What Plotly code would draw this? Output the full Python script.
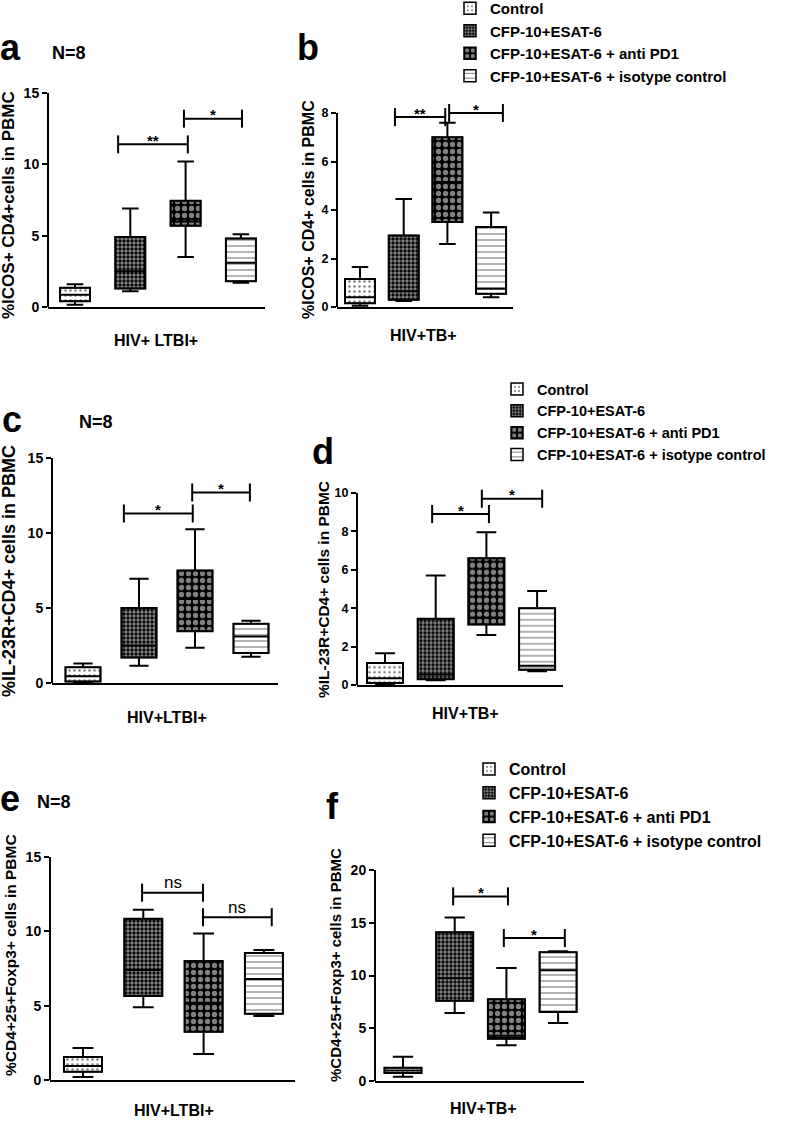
import plotly.graph_objects as go

W, H = 787, 1124
FONT = "Liberation Sans"

GROUPS = ["Control", "CFP-10+ESAT-6", "CFP-10+ESAT-6 + anti PD1",
          "CFP-10+ESAT-6 + isotype control"]

# ---- panel a: %ICOS+ CD4+ cells, HIV+ LTBI+ ----
A_MIN = [0.15, 1.1, 3.5, 1.7]
A_Q1 = [0.4, 1.3, 5.7, 1.8]
A_MED = [0.85, 2.5, 6.0, 3.1]
A_Q3 = [1.35, 4.9, 7.45, 4.8]
A_MAX = [1.6, 6.9, 10.2, 5.1]
A_YTICKS = [0, 5, 10, 15]
A_BRACKETS = [(0.78, 2.04, 11.4, "**"), (1.97, 3.02, 13.2, "*")]

# ---- panel b: %ICOS+ CD4+ cells, HIV+TB+ ----
B_MIN = [0.05, 0.25, 2.6, 0.4]
B_Q1 = [0.15, 0.3, 3.5, 0.55]
B_MED = [0.4, 0.65, 5.15, 0.75]
B_Q3 = [1.15, 2.95, 7.0, 3.3]
B_MAX = [1.65, 4.45, 7.6, 3.9]
B_YTICKS = [0, 2, 4, 6, 8]
B_BRACKETS = [(0.80, 1.95, 7.83, "**"), (2.04, 3.27, 8.0, "*")]

# ---- panel c: %IL-23R+CD4+ cells, HIV+LTBI+ ----
C_MIN = [0.05, 1.15, 2.35, 1.75]
C_Q1 = [0.1, 1.7, 3.45, 2.0]
C_MED = [0.45, 2.5, 5.6, 3.1]
C_Q3 = [1.05, 5.0, 7.5, 3.95]
C_MAX = [1.3, 6.95, 10.25, 4.15]
C_YTICKS = [0, 5, 10, 15]
C_BRACKETS = [(0.73, 1.96, 11.3, "*"), (1.95, 2.98, 12.7, "*")]

# ---- panel d: %IL-23R+CD4+ cells, HIV+TB+ ----
D_MIN = [0.05, 0.25, 2.6, 0.72]
D_Q1 = [0.1, 0.3, 3.15, 0.8]
D_MED = [0.35, 0.55, 3.5, 1.0]
D_Q3 = [1.15, 3.45, 6.6, 4.0]
D_MAX = [1.65, 5.7, 7.95, 4.9]
D_YTICKS = [0, 2, 4, 6, 8, 10]
D_BRACKETS = [(0.93, 2.05, 8.9, "*"), (1.91, 3.10, 9.7, "*")]

# ---- panel e: %CD4+25+Foxp3+ cells, HIV+LTBI+ ----
E_MIN = [0.2, 4.9, 1.75, 4.3]
E_Q1 = [0.55, 5.65, 3.25, 4.45]
E_MED = [0.95, 7.4, 5.2, 6.8]
E_Q3 = [1.55, 10.85, 8.0, 8.55]
E_MAX = [2.15, 11.45, 9.85, 8.75]
E_YTICKS = [0, 5, 10, 15]
E_BRACKETS = [(0.98, 1.99, 12.6, "ns"), (1.99, 3.13, 10.95, "ns")]

# ---- panel f: %CD4+25+Foxp3+ cells, HIV+TB+ ----
F_MIN = [0.4, 6.45, 3.4, 5.5]
F_Q1 = [0.75, 7.6, 4.0, 6.55]
F_MED = [1.0, 9.75, 4.3, 10.5]
F_Q3 = [1.25, 14.1, 7.75, 12.2]
F_MAX = [2.3, 15.5, 10.7, 12.3]
F_YTICKS = [0, 5, 10, 15, 20]
F_BRACKETS = [(0.97, 2.03, 17.5, "*"), (1.95, 3.13, 13.55, "*")]

YTITLES = ["%ICOS+ CD4+cells in PBMC", "%ICOS+ CD4+ cells in PBMC",
           "%IL-23R+CD4+ cells in PBMC", "%IL-23R+CD4+ cells in PBMC",
           "%CD4+25+Foxp3+ cells in PBMC", "%CD4+25+Foxp3+ cells in PBMC"]
XTITLES = ["HIV+ LTBI+", "HIV+TB+", "HIV+LTBI+", "HIV+TB+", "HIV+LTBI+", "HIV+TB+"]
LETTERS = ["a", "b", "c", "d", "e", "f"]

DATA = [
    (A_MIN, A_Q1, A_MED, A_Q3, A_MAX, A_YTICKS, A_BRACKETS),
    (B_MIN, B_Q1, B_MED, B_Q3, B_MAX, B_YTICKS, B_BRACKETS),
    (C_MIN, C_Q1, C_MED, C_Q3, C_MAX, C_YTICKS, C_BRACKETS),
    (D_MIN, D_Q1, D_MED, D_Q3, D_MAX, D_YTICKS, D_BRACKETS),
    (E_MIN, E_Q1, E_MED, E_Q3, E_MAX, E_YTICKS, E_BRACKETS),
    (F_MIN, F_Q1, F_MED, F_Q3, F_MAX, F_YTICKS, F_BRACKETS),
]

# ---- layout geometry (pixels) ----
GEOM = [
    dict(xl=48, xr=265, c0=75, step=55.3, y0=307, ytop=93, box=30, tick=14,
         letter=(10, 48), n8=(69, 53), yt=(8, 205, 17), xt=(156, 341), legend=None),
    dict(xl=337, xr=513, c0=360, step=43.7, y0=307, ytop=113, box=30, tick=12.5,
         letter=(308, 48), n8=None, yt=(308, 210, 16), xt=(424, 335),
         legend=("legend", 450, -8, 15)),
    dict(xl=52, xr=278, c0=83, step=56, y0=683, ytop=458, box=35, tick=14,
         letter=(12, 419), n8=(96, 422), yt=(9, 571, 18), xt=(167, 717), legend=None),
    dict(xl=357, xr=563, c0=385, step=50.7, y0=685, ytop=493, box=36, tick=12.5,
         letter=(323, 451), n8=None, yt=(323, 590, 15.5), xt=(465, 713),
         legend=("legend2", 497, 373, 14.5)),
    dict(xl=50, xr=295, c0=83, step=60.3, y0=1080, ytop=857, box=38, tick=14,
         letter=(10, 798), n8=(54, 802), yt=(10, 955, 15.5), xt=(174, 1110), legend=None),
    dict(xl=375, xr=584, c0=403, step=51.7, y0=1081, ytop=870, box=37, tick=14,
         letter=(332, 806), n8=None, yt=(335, 965, 15), xt=(483, 1108),
         legend=("legend3", 469, 752, 16)),
]

PATTERNS = [
    dict(shape=".", size=5, solidity=0.2, fgcolor="black", bgcolor="white"),
    dict(shape=".", size=4, solidity=0.55, fgcolor="white", bgcolor="black"),
    dict(shape=".", size=7, solidity=0.45, fgcolor="white", bgcolor="black"),
    dict(shape="-", size=6, solidity=0.2, fgcolor="black", bgcolor="white"),
]


def px_x(p):
    return p / W


def px_y(p):
    return 1 - p / H


def bold(t):
    return f"<b>{t}</b>"


fig = go.Figure()
layout = {}
annotations = []
shapes = []

for k, (mins, q1, med, q3, maxs, yticks, brackets) in enumerate(DATA):
    g = GEOM[k]
    n = k + 1
    xa = "x" if n == 1 else f"x{n}"
    ya = "y" if n == 1 else f"y{n}"
    pxu = (g["y0"] - g["ytop"]) / yticks[-1]
    top_val = max(yticks[-1], max(b[2] for b in brackets) + 14 / pxu)
    top_px = g["y0"] - top_val * pxu
    bw = g["box"] / g["step"]
    leg = g["legend"]

    layout["xaxis" if n == 1 else f"xaxis{n}"] = dict(
        domain=[px_x(g["xl"]), px_x(g["xr"])],
        range=[(g["xl"] - g["c0"]) / g["step"], (g["xr"] - g["c0"]) / g["step"]],
        anchor=ya, showline=True, linewidth=2, linecolor="black",
        showticklabels=False, ticks="", showgrid=False, zeroline=False)
    layout["yaxis" if n == 1 else f"yaxis{n}"] = dict(
        domain=[px_y(g["y0"]), px_y(top_px)], range=[0, top_val], anchor=xa,
        showline=False, ticks="outside", ticklen=5, tickwidth=2, tickcolor="black",
        tickvals=yticks, ticktext=[bold(v) for v in yticks],
        tickfont=dict(family=FONT, size=g["tick"], color="black"),
        showgrid=False, zeroline=False)

    # y axis line ending at the top tick
    shapes.append(dict(type="line", xref=f"{xa} domain", x0=0, x1=0, yref=ya,
                       y0=0, y1=yticks[-1], line=dict(color="black", width=2)))

    for i, name in enumerate(GROUPS):
        fig.add_trace(go.Bar(
            x=[i], y=[q3[i] - q1[i]], base=[q1[i]], width=[bw], name=name,
            marker=dict(color="white", pattern=PATTERNS[i],
                        line=dict(color="black", width=1.5)),
            showlegend=leg is not None, legend=leg[0] if leg else "legend",
            xaxis=xa, yaxis=ya, hoverinfo="skip"))
        fig.add_trace(go.Box(
            x=[i], q1=[q1[i]], median=[med[i]], q3=[q3[i]],
            lowerfence=[mins[i]], upperfence=[maxs[i]], width=bw, whiskerwidth=0.55,
            line=dict(color="black", width=2), fillcolor="rgba(0,0,0,0)",
            boxpoints=False, showlegend=False, xaxis=xa, yaxis=ya, hoverinfo="skip"))

    d = 9 / pxu
    for (b1, b2, h, lab) in brackets:
        fig.add_trace(go.Scatter(
            x=[b1, b1, None, b1, b2, None, b2, b2],
            y=[h - d, h + d, None, h, h, None, h - d, h + d],
            mode="lines", line=dict(color="black", width=2),
            showlegend=False, xaxis=xa, yaxis=ya, hoverinfo="skip"))
        if lab == "ns":
            annotations.append(dict(x=(b1 + b2) / 2, y=h, xref=xa, yref=ya, text=lab,
                                    showarrow=False, yanchor="middle", yshift=10,
                                    font=dict(family=FONT, size=17, color="black")))
        else:
            annotations.append(dict(x=(b1 + b2) / 2, y=h, xref=xa, yref=ya, text=bold(lab),
                                    showarrow=False, yanchor="middle", yshift=4,
                                    font=dict(family=FONT, size=15, color="black")))

    # panel letter, N=8, axis titles
    annotations.append(dict(x=px_x(g["letter"][0]), y=px_y(g["letter"][1]), xref="paper",
                            yref="paper", text=bold(LETTERS[k]), showarrow=False,
                            xanchor="center", yanchor="middle",
                            font=dict(family=FONT, size=36, color="black")))
    if g["n8"]:
        annotations.append(dict(x=px_x(g["n8"][0]), y=px_y(g["n8"][1]), xref="paper",
                                yref="paper", text=bold("N=8"), showarrow=False,
                                xanchor="center", yanchor="middle",
                                font=dict(family=FONT, size=18, color="black")))
    annotations.append(dict(x=px_x(g["yt"][0]), y=px_y(g["yt"][1]), xref="paper",
                            yref="paper", text=bold(YTITLES[k]), showarrow=False,
                            textangle=-90, xanchor="center", yanchor="middle",
                            font=dict(family=FONT, size=g["yt"][2], color="black")))
    annotations.append(dict(x=px_x(g["xt"][0]), y=px_y(g["xt"][1]), xref="paper",
                            yref="paper", text=bold(XTITLES[k]), showarrow=False,
                            xanchor="center", yanchor="middle",
                            font=dict(family=FONT, size=16, color="black")))
    if leg:
        layout[leg[0]] = dict(x=px_x(leg[1]), y=px_y(leg[2]), xanchor="left",
                              yanchor="top", bgcolor="rgba(0,0,0,0)", borderwidth=0,
                              font=dict(family=FONT, size=leg[3], color="black",
                                        weight="bold"),
                              itemclick=False, itemdoubleclick=False)

fig.update_layout(
    width=W, height=H, autosize=False,
    margin=dict(l=0, r=0, t=0, b=0, autoexpand=False),
    paper_bgcolor="white", plot_bgcolor="white",
    barmode="overlay", boxmode="overlay", hovermode=False,
    annotations=annotations, shapes=shapes, **layout)

fig.write_html("out.html", config={"displayModeBar": False, "staticPlot": True},
               post_script="document.body.style.margin='0';document.body.style.padding='0';")
